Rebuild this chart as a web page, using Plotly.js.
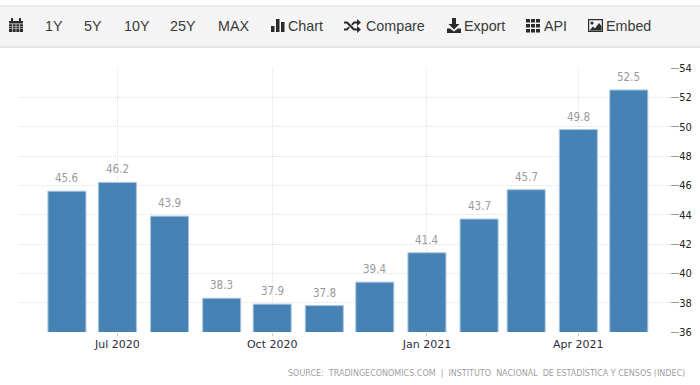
<!DOCTYPE html>
<html><head><meta charset="utf-8">
<script src="https://cdn.plot.ly/plotly-3.0.1.min.js"></script>
<style>
html,body{margin:0;padding:0;background:#fff;width:700px;height:385px;overflow:hidden}
#chart{position:absolute;left:0;top:0;width:700px;height:385px}
#bar{position:absolute;left:0;top:5px;width:700px;height:39px;background:#f4f4f4;border-top:2px solid #ebebeb;border-bottom:2px solid #e6e6e6;box-sizing:content-box}
#bar span{position:absolute;top:10px;font:14.3px/18px "Liberation Sans",Arial,sans-serif;color:#3a3a3a;white-space:nowrap}
#bar svg{position:absolute;fill:#2b2b2b}
</style></head><body>
<div id="chart"></div>
<div id="bar"></div>
<script>
const dates=['2020-06-01','2020-07-01','2020-08-01','2020-09-01','2020-10-01','2020-11-01','2020-12-01','2021-01-01','2021-02-01','2021-03-01','2021-04-01','2021-05-01'];
const values=[45.6,46.2,43.9,38.3,37.9,37.8,39.4,41.4,43.7,45.7,49.8,52.5];
const valueLabels=['45.6','46.2','43.9','38.3','37.9','37.8','39.4','41.4','43.7','45.7','49.8','52.5'];
const xTickVals=['2020-07-01','2020-10-01','2021-01-01','2021-04-01'];
const xTickText=['Jul 2020','Oct 2020','Jan 2021','Apr 2021'];
const yTicks=[36,38,40,42,44,46,48,50,52,54];
const sourceText='SOURCE:\u00a0\u00a0TRADINGECONOMICS.COM\u00a0\u00a0|\u00a0\u00a0INSTITUTO\u00a0\u00a0NACIONAL\u00a0\u00a0DE\u00a0ESTADÍSTICA\u00a0Y\u00a0CENSOS\u00a0(INDEC)';
const toolbarItems=[['1Y',45],['5Y',84],['10Y',124],['25Y',170],['MAX',218],['Chart',288],['Compare',366],['Export',464],['API',544],['Embed',606]];

const DAY=86400000;
const annotations=dates.map((d,i)=>({x:d,y:values[i],xref:'x',yref:'y',text:valueLabels[i],showarrow:false,
  yanchor:'bottom',yshift:4,font:{family:'DejaVu Sans Condensed, DejaVu Sans',size:11.5,color:'#9a9a9a'}}));
annotations.push({xref:'paper',yref:'paper',x:(687-19)/651,y:-41/265,xanchor:'right',yanchor:'middle',showarrow:false,
  text:sourceText,font:{family:'DejaVu Sans',size:8,color:'#a0a0a0'}});

Plotly.newPlot('chart',[{type:'bar',x:dates,y:values,width:dates.map(()=>22.6*DAY),
  marker:{color:'#4682b4',line:{color:'#a9c5de',width:1}},hoverinfo:'x+y'}],{
  width:700,height:385,margin:{l:19,r:30,t:67.5,b:52.5},
  paper_bgcolor:'#fff',plot_bgcolor:'#fff',showlegend:false,bargap:0,
  xaxis:{type:'date',range:['2020-05-03T12:00','2021-05-25T12:00'],tickmode:'array',tickvals:xTickVals,ticktext:xTickText,
    showgrid:true,gridcolor:'#e0e0e0',griddash:'1px,1px',gridwidth:1,ticks:'outside',ticklen:3,tickcolor:'#cccccc',
    ticklabelstandoff:-1,showline:false,zeroline:false,tickfont:{family:'DejaVu Sans',size:11,color:'#2c2c3c'}},
  yaxis:{range:[36,54],side:'right',tickmode:'array',tickvals:yTicks,ticktext:yTicks.map(String),
    showgrid:true,gridcolor:'#e0e0e0',griddash:'1px,1px',gridwidth:1,ticks:'outside',ticklen:8,tickcolor:'#999999',
    ticklabelstandoff:-2,showline:false,zeroline:false,tickfont:{family:'DejaVu Sans Condensed, DejaVu Sans',size:11,color:'#222222'}},
  annotations:annotations
},{displayModeBar:false,staticPlot:true});

const bar=document.getElementById('bar');
toolbarItems.forEach(([t,x])=>{const s=document.createElement('span');s.textContent=t;s.style.left=x+'px';bar.appendChild(s);});
const icons=[
 [9,11,14,14,'<path d="M0 3h14v11H0z"/><path d="M2 0h2v3H2zM10 0h2v3h-2z"/><path fill="#f4f4f4" d="M0 5.5h14v.7H0zM0 8h14v.6H0zM0 10.4h14v.6H0zM3.3 5.5h.6V14h-.6zM6.7 5.5h.6V14h-.6zM10.1 5.5h.6V14h-.6z"/>'],
 [271,12,14,13,'<path d="M0 7h3.5v6H0zM5 0h3.5v13H5zM10 3h3.5v10H10z"/>'],
 [344,12,17,14,'<path d="M0 2.5h3.5l7 7H13V7l4 3.5-4 3.5v-2.5H9.5l-7-7H0zM0 9.5h2.5l2-2 1.3 1.3-2.5 2.7H0zM13 0l4 3.5L13 7V4.5h-2.5l-2 2-1.3-1.3 2.5-2.7H13z"/>'],
 [447,11,14,15,'<path d="M5 0h4v6h3.5L7 11.5 1.5 6H5z"/><path d="M0 10.5h3l4 3 4-3h3V15H0z"/>'],
 [526,11,14,15,'<path d="M0 1h4v3.5H0zM5 1h4v3.5H5zM10 1h4v3.5h-4zM0 6h4v3.5H0zM5 6h4v3.5H5zM10 6h4v3.5h-4zM0 11h4v3.5H0zM5 11h4v3.5H5zM10 11h4v3.5h-4z"/>'],
 [588,12,15,13,'<path fill-rule="evenodd" d="M0 0h15v13H0zM1.2 1.2v10.6h12.6V1.2z"/><circle cx="4" cy="4" r="1.6"/><path d="M1.5 11.5l3.5-4 2 2 4-5.5 2.5 3v4.5z"/>']
];
icons.forEach(([x,y,w,h,p])=>{bar.insertAdjacentHTML('beforeend',`<svg style="left:${x}px;top:${y}px" width="${w}" height="${h}" viewBox="0 0 ${w} ${h}">${p}</svg>`);});
</script></body></html>
